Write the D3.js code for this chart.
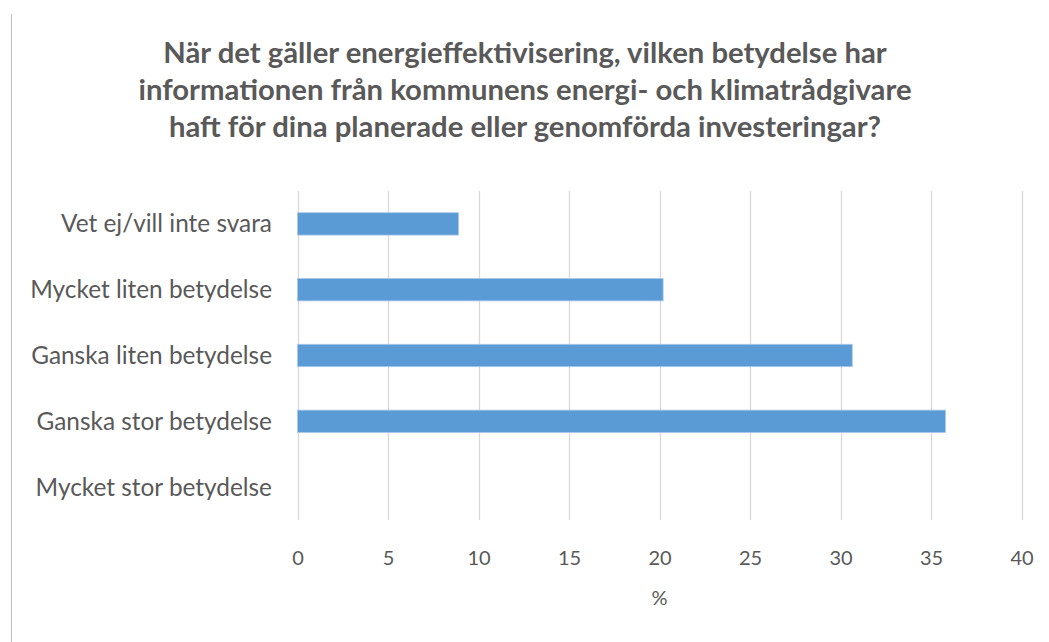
<!DOCTYPE html>
<html><head><meta charset="utf-8">
<script src="https://cdn.jsdelivr.net/npm/d3@7"></script>
<style>body{margin:0;background:#fff}svg{display:block}</style>
</head><body>
<script>
const categories = ["Vet ej/vill inte svara","Mycket liten betydelse","Ganska liten betydelse","Ganska stor betydelse","Mycket stor betydelse"];
const values = [8.9, 20.2, 30.65, 35.8, 0];
const xTicks = [0,5,10,15,20,25,30,35,40];
const titleLines = ["När det gäller energieffektivisering, vilken betydelse har","informationen från kommunens energi- och klimatrådgivare","haft för dina planerade eller genomförda investeringar?"];
const xLabel = "%";

const W = 1049, H = 642;
const svg = d3.select("body").append("svg").attr("width", W).attr("height", H);
const font = "Lato, 'Open Sans', sans-serif";

// left border line
svg.append("line").attr("x1",11.5).attr("x2",11.5).attr("y1",14).attr("y2",H).attr("stroke","#bfbfbf").attr("stroke-width",1);

const x = d3.scaleLinear().domain([0,40]).range([297.5,1021.5]);
const y = d3.scaleBand().domain(categories).range([191,520]).paddingInner(0.66).paddingOuter(0.33);

// gridlines
svg.append("g").selectAll("line").data(xTicks).join("line")
  .attr("x1",d=>Math.round(x(d))+0.5).attr("x2",d=>Math.round(x(d))+0.5)
  .attr("y1",191).attr("y2",520).attr("stroke","#d9d9d9").attr("stroke-width",1.3);

// bars
svg.append("g").selectAll("rect").data(values).join("rect")
  .attr("x",x(0)).attr("y",(d,i)=>y(categories[i]))
  .attr("width",d=>x(d)-x(0)).attr("height",y.bandwidth())
  .attr("fill","#5b9bd5").attr("stroke",d=>d>0?"#a9c8ea":"none").attr("stroke-width",0.8);

// x axis tick labels
const xAxis = d3.axisBottom(x).tickValues(xTicks).tickSize(0).tickPadding(0);
const gx = svg.append("g").attr("transform","translate(0,565)").call(xAxis);
gx.select(".domain").remove();
gx.selectAll("text").attr("dy",0).attr("font-family",font).attr("font-size",20).attr("fill","#595959");

// y labels
const yAxis = d3.axisLeft(y).tickSize(0).tickPadding(0);
const gy = svg.append("g").attr("transform","translate(272,0)").call(yAxis);
gy.select(".domain").remove();
gy.selectAll("text").attr("font-family",font).attr("font-size",20).attr("fill","#595959").attr("dy","0.35em");
// fit label font
(function(){
  const t = gy.selectAll("text").filter(d=>d==="Mycket liten betydelse").node();
  const w = t.getComputedTextLength();
  const fs = 20*242/w;
  gy.selectAll("text").attr("font-size",fs);
})();

// x label
svg.append("text").attr("x",x(20)).attr("y",605).attr("text-anchor","middle")
  .attr("font-family",font).attr("font-size",20).attr("fill","#595959").text(xLabel);

// title
const tg = svg.append("g");
const baselines = [63,100,137];
tg.selectAll("text").data(titleLines).join("text")
  .attr("x",525).attr("y",(d,i)=>baselines[i]).attr("text-anchor","middle")
  .attr("font-family",font).attr("font-weight","bold").attr("font-size",24).attr("fill","#595959").text(d=>d);
(function(){
  const w = tg.select("text").node().getComputedTextLength();
  tg.selectAll("text").attr("font-size",24*724/w);
})();
</script>
</body></html>
